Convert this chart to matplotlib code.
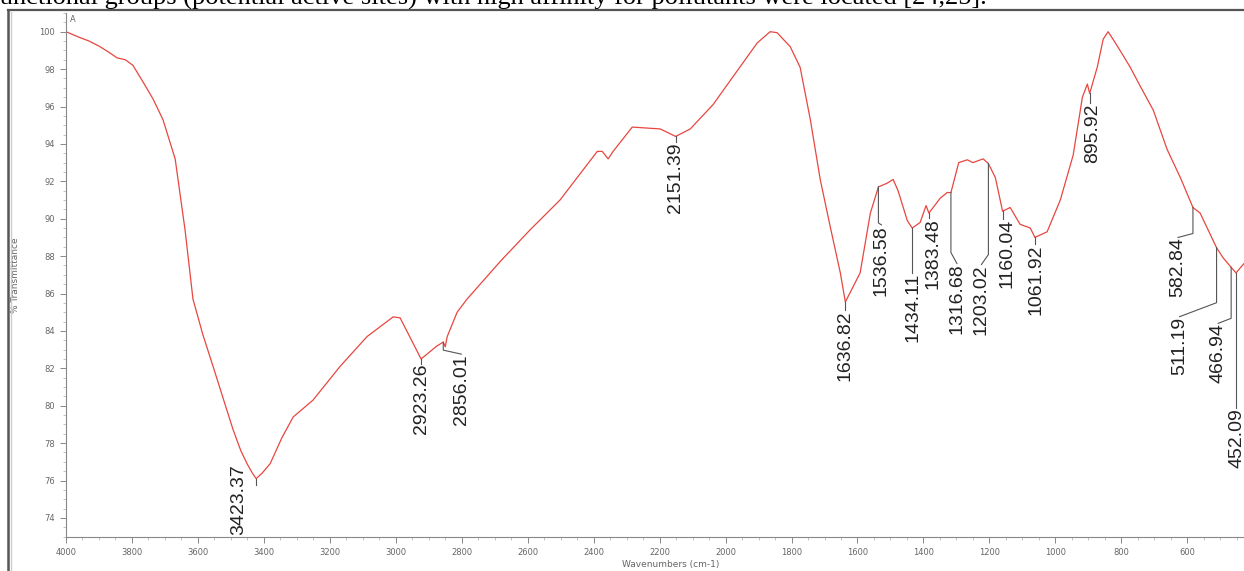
import numpy as np
import matplotlib.pyplot as plt
from matplotlib.lines import Line2D
from matplotlib.ticker import MultipleLocator
from matplotlib.transforms import IdentityTransform

# FTIR spectrum (wavenumber in cm-1, % transmittance)
wavenumber = [4000, 3960, 3930, 3897, 3870, 3845, 3820, 3797, 3766, 3736, 3706,
              3669, 3639, 3615, 3585, 3554, 3520, 3493, 3470, 3451, 3435,
              3423.37, 3405, 3381, 3345, 3311, 3251, 3169, 3087, 3008, 2987,
              2923.26, 2875, 2856.01, 2850, 2844, 2814, 2784, 2684, 2593, 2502,
              2389, 2374, 2356, 2341, 2283, 2198, 2151.39, 2107, 2038, 1965,
              1904, 1865, 1844, 1804, 1774, 1743, 1713, 1683, 1652, 1636.82,
              1592, 1561, 1540, 1536.58, 1510, 1492, 1477, 1449, 1434.11, 1410,
              1392, 1383.48, 1349, 1328, 1316.68, 1293, 1267, 1250, 1219,
              1203.02, 1182, 1160.04, 1137, 1107, 1076, 1061.92, 1025, 985,
              946, 918, 903, 895.92, 873, 855, 840, 818, 797, 773, 743, 703,
              661, 621, 590, 582.84, 561, 511.19, 491, 466.94, 452.09, 438, 428]
transmittance = [100.0, 99.7, 99.5, 99.2, 98.9, 98.6, 98.5, 98.2, 97.3, 96.4, 95.3,
                 93.2, 89.4, 85.7, 83.8, 82.1, 80.2, 78.7, 77.6, 76.9, 76.4,
                 76.1, 76.4, 76.9, 78.3, 79.4, 80.3, 82.1, 83.7, 84.75, 84.7,
                 82.5, 83.2, 83.4, 83.15, 83.7, 85.0, 85.7, 87.7, 89.4, 91.0,
                 93.6, 93.6, 93.2, 93.6, 94.9, 94.8, 94.4, 94.8, 96.1, 97.9,
                 99.4, 100.0, 99.95, 99.2, 98.1, 95.3, 92.1, 89.6, 87.1, 85.55,
                 87.1, 90.3, 91.5, 91.7, 91.9, 92.1, 91.5, 89.9, 89.5, 89.8,
                 90.7, 90.3, 91.1, 91.4, 91.4, 93.0, 93.15, 93.0, 93.2,
                 92.95, 92.2, 90.4, 90.6, 89.7, 89.5, 89.0, 89.3, 91.0,
                 93.4, 96.5, 97.2, 96.7, 98.1, 99.6, 100.0, 99.4, 98.8, 98.1, 97.1, 95.8,
                 93.7, 92.2, 90.9, 90.6, 90.3, 88.45, 87.9, 87.4, 87.1, 87.4, 87.6]

peak_labels = [3423.37, 2923.26, 2856.01, 2151.39, 1636.82, 1536.58, 1434.11,
               1383.48, 1316.68, 1203.02, 1160.04, 1061.92, 895.92, 582.84,
               511.19, 466.94, 452.09]

x_ticks = list(range(4000, 599, -200))
y_ticks = list(range(74, 101, 2))

caption = ("functional groups (potential active sites) with high affinity "
           "for pollutants were located [24,25].")

# label placement in pixels: (dx, dy to text top, leader drop), dy downward
label_layout = [(-17, -14, 6), (0, 5, 5), (18, 12, 8), (0, 6, 6), (0, 8, 8),
                (3, 38, 36), (1, 45, 45), (4, 5, 5), (6, 71, 60), (-7, 101, 91),
                (4, 8, 8), (1, 7, 7), (3, 10, 10), (-15, 30, 26), (-37, 69, 55),
                (-13, 56, 51), (1, 135, 135)]

W, H = 1244, 571
fig = plt.figure(figsize=(W / 100, H / 100), dpi=100)
ax = fig.add_axes([66 / W, 1 - 537 / H, 1 - 66 / W, (537 - 13) / H])

ax.plot(wavenumber, transmittance, color='#e8463f', lw=0.9)
ax.set_xlim(4000, 428)
ax.set_ylim(72.98, 101.0)

ax.set_xticks(x_ticks)
ax.set_yticks(y_ticks)
ax.xaxis.set_minor_locator(MultipleLocator(50))
ax.yaxis.set_minor_locator(MultipleLocator(0.5))
ax.tick_params(which='major', length=4, width=0.7, color='#888',
               labelsize=6, labelcolor='#666', pad=4)
ax.tick_params(which='minor', length=2, width=0.5, color='#aaa')
for side in ['top', 'right']:
    ax.spines[side].set_visible(False)
for side in ['left', 'bottom']:
    ax.spines[side].set_color('#888')
    ax.spines[side].set_linewidth(0.8)

ax.set_xlabel('Wavenumbers (cm-1)', fontsize=6.5, color='#666')
ax.xaxis.set_label_coords(0.513, -0.044)
ax.set_ylabel('% Transmittance', fontsize=6.5, color='#666')
ax.yaxis.set_label_coords(-0.039, 0.5)

fig.text(70 / W, 1 - 20 / H, 'A', fontsize=6, color='#666', va='center')

# peak labels with leader lines
wn_rev = np.array(wavenumber[::-1])
tr_rev = np.array(transmittance[::-1])
for wn, (dx, dy, drop) in zip(peak_labels, label_layout):
    t = np.interp(wn, wn_rev, tr_rev)
    px, py = ax.transData.transform((wn, t))
    xs = [px, px]
    ys = [py, py - drop]
    if dy > drop:
        xs.append(px + dx)
        ys.append(py - dy)
    fig.add_artist(Line2D(xs, ys, transform=IdentityTransform(),
                          color='#555', lw=0.8))
    fig.text(px + dx, py - dy, f'{wn:.2f}', transform=IdentityTransform(),
             rotation=90, ha='center', va='top', fontsize=14,
             family='Liberation Sans', color='#222')

# page frame and the cut-off caption line above it
fig.add_artist(Line2D([8 / W, 1], [1 - 10 / H] * 2, color='#555', lw=1.6))
fig.add_artist(Line2D([8 / W] * 2, [0, 1 - 10 / H], color='#555', lw=1.8))
fig.add_artist(Line2D([10.5 / W] * 2, [0, 1 - 12 / H], color='#ccc', lw=1.0))
fig.text(-9 / W, 1 - 5 / H, caption, fontsize=19, family='Liberation Serif',
         va='baseline', ha='left', color='black')

fig.savefig('out.png', dpi=100)
